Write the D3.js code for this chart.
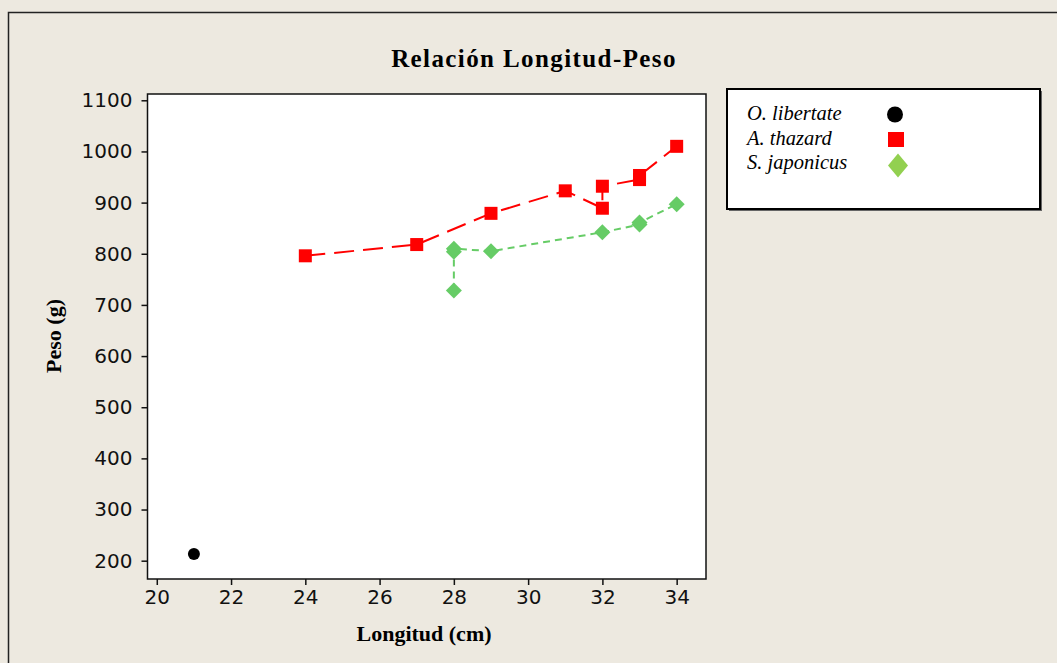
<!DOCTYPE html>
<meta charset="utf-8">
<style>
  body { margin: 0; background: #ede9e0; }
</style>

<!-- Load d3.js -->
<script src="https://d3js.org/d3.v7.min.js"></script>

<div id="my_dataviz"></div>

<script>
  // data
  var libertateLen = [21];
  var libertatePeso = [213];

  var thazardLen = [24, 27, 29, 31, 32, 32, 33, 33, 34];
  var thazardPeso = [796, 818, 879, 923, 889, 932, 945, 953, 1010];

  var japonicusLen = [28, 28, 28, 29, 32, 33, 33, 34];
  var japonicusPeso = [728, 804, 810, 805, 842, 857, 861, 897];

  var xTicks = [20, 22, 24, 26, 28, 30, 32, 34];
  var yTicks = [200, 300, 400, 500, 600, 700, 800, 900, 1000, 1100];

  var legendNames = ["O. libertate", "A. thazard", "S. japonicus"];

  var W = 1057, H = 663;
  var plot = { left: 147.5, right: 706, top: 94, bottom: 579 };

  var svg = d3.select("#my_dataviz")
    .append("svg")
    .attr("width", W)
    .attr("height", H);

  // outer frame
  svg.append("rect")
    .attr("x", 0).attr("y", 0).attr("width", W).attr("height", H)
    .style("fill", "#ede9e0");
  svg.append("path")
    .attr("d", "M8.5," + H + "V12.5H" + W)
    .style("fill", "none")
    .style("stroke", "#222")
    .style("stroke-width", 1.5);

  // scales
  var x = d3.scaleLinear()
    .domain([19.75, 34.79])
    .range([plot.left, plot.right]);
  var y = d3.scaleLinear()
    .domain([164.2, 1112.3])
    .range([plot.bottom, plot.top]);

  // plot area
  svg.append("rect")
    .attr("x", plot.left)
    .attr("y", plot.top)
    .attr("width", plot.right - plot.left)
    .attr("height", plot.bottom - plot.top)
    .style("fill", "white")
    .style("stroke", "#111")
    .style("stroke-width", 1.5);

  // axes
  var xAxis = svg.append("g")
    .attr("transform", "translate(0," + plot.bottom + ")")
    .call(d3.axisBottom(x).tickValues(xTicks).tickFormat(d3.format("d"))
      .tickSize(6).tickSizeOuter(0).tickPadding(5));
  var yAxis = svg.append("g")
    .attr("transform", "translate(" + plot.left + ",0)")
    .call(d3.axisLeft(y).tickValues(yTicks).tickFormat(d3.format("d"))
      .tickSize(6).tickSizeOuter(0).tickPadding(9));

  [xAxis, yAxis].forEach(function(a) {
    a.select(".domain").remove();
    a.selectAll(".tick line").style("stroke", "#111").style("stroke-width", 1.5);
    a.selectAll(".tick text")
      .style("font-family", "DejaVu Sans")
      .style("font-size", "20px")
      .style("fill", "#111");
  });

  // title and axis titles
  svg.append("text")
    .attr("x", 534)
    .attr("y", 67)
    .attr("text-anchor", "middle")
    .style("font-family", "Liberation Serif")
    .style("font-weight", "bold")
    .style("font-size", "25px")
    .style("letter-spacing", "1.4px")
    .text("Relación Longitud-Peso");

  svg.append("text")
    .attr("x", 424)
    .attr("y", 641)
    .attr("text-anchor", "middle")
    .style("font-family", "Liberation Serif")
    .style("font-weight", "bold")
    .style("font-size", "22px")
    .text("Longitud (cm)");

  svg.append("text")
    .attr("transform", "translate(61,336) rotate(-90)")
    .attr("text-anchor", "middle")
    .style("font-family", "Liberation Serif")
    .style("font-weight", "bold")
    .style("font-size", "22px")
    .text("Peso (g)");

  // series
  var thazard = thazardLen.map(function(d, i) { return { len: d, peso: thazardPeso[i] }; });
  var japonicus = japonicusLen.map(function(d, i) { return { len: d, peso: japonicusPeso[i] }; });
  var libertate = libertateLen.map(function(d, i) { return { len: d, peso: libertatePeso[i] }; });

  var line = d3.line()
    .x(function(d) { return x(d.len); })
    .y(function(d) { return y(d.peso); });

  svg.append("path")
    .datum(japonicus)
    .attr("d", line)
    .style("fill", "none")
    .style("stroke", "#66cc66")
    .style("stroke-width", 2)
    .style("stroke-dasharray", "7,5");

  svg.append("path")
    .datum(thazard)
    .attr("d", line)
    .style("fill", "none")
    .style("stroke", "#ff0000")
    .style("stroke-width", 2)
    .style("stroke-dasharray", "20,9");

  var diamond = function(w, h) {
    return "M0," + (-h / 2) + "L" + (w / 2) + ",0L0," + (h / 2) + "L" + (-w / 2) + ",0Z";
  };

  svg.selectAll(".jap")
    .data(japonicus)
    .enter()
    .append("path")
    .attr("class", "jap")
    .attr("transform", function(d) { return "translate(" + x(d.len) + "," + y(d.peso) + ")"; })
    .attr("d", diamond(16, 16))
    .style("fill", "#66cc66");

  svg.selectAll(".tha")
    .data(thazard)
    .enter()
    .append("rect")
    .attr("class", "tha")
    .attr("x", function(d) { return x(d.len) - 6.5; })
    .attr("y", function(d) { return y(d.peso) - 6.5; })
    .attr("width", 13)
    .attr("height", 13)
    .style("fill", "#ff0000");

  svg.selectAll(".lib")
    .data(libertate)
    .enter()
    .append("circle")
    .attr("class", "lib")
    .attr("cx", function(d) { return x(d.len); })
    .attr("cy", function(d) { return y(d.peso); })
    .attr("r", 6)
    .style("fill", "black");

  // legend
  var legend = svg.append("g");
  legend.append("rect")
    .attr("x", 729).attr("y", 91).attr("width", 313).attr("height", 120)
    .style("fill", "#666");
  legend.append("rect")
    .attr("x", 727).attr("y", 89).attr("width", 313).attr("height", 120)
    .style("fill", "white")
    .style("stroke", "black")
    .style("stroke-width", 2);

  legend.selectAll("text")
    .data(legendNames)
    .enter()
    .append("text")
    .attr("x", 747)
    .attr("y", function(d, i) { return 120 + i * 24.5; })
    .style("font-family", "Liberation Serif")
    .style("font-style", "italic")
    .style("font-size", "20.5px")
    .text(function(d) { return d; });

  legend.append("circle")
    .attr("cx", 895).attr("cy", 114.5).attr("r", 8)
    .style("fill", "black");
  legend.append("rect")
    .attr("x", 888).attr("y", 132).attr("width", 16).attr("height", 15)
    .style("fill", "#ff0000");
  legend.append("path")
    .attr("transform", "translate(898,165.5)")
    .attr("d", diamond(20, 24))
    .style("fill", "#92d050");
</script>
